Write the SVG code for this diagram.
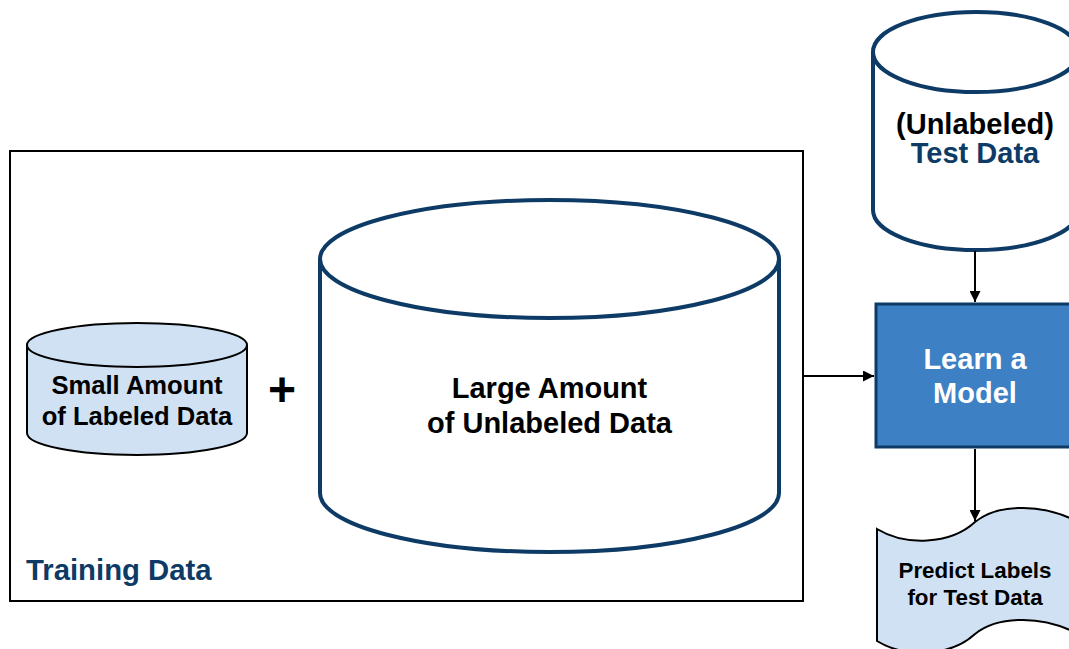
<svg xmlns="http://www.w3.org/2000/svg" width="1069" height="649" viewBox="0 0 1069 649">
<style>
text{font-family:"Liberation Sans",Arial,sans-serif;font-weight:bold;text-anchor:middle}
.navy{fill:#0d3b66}
.blk{fill:#000}
.wht{fill:#fff}
.cylN{fill:#fff;stroke:#0d3b66;stroke-width:4}
.cylL{fill:#cfe1f3;stroke:#000;stroke-width:2}
.conn{stroke:#000;stroke-width:2;fill:none}
</style>
<defs>
<marker id="arr" viewBox="0 0 10 10" refX="10" refY="5" markerWidth="11" markerHeight="11" markerUnits="userSpaceOnUse" orient="auto">
<path d="M0,0 L10,5 L0,10 z" fill="#000"/>
</marker>
</defs>
<rect width="1069" height="649" fill="#fff"/>
<g id="training-data">
<rect x="10" y="151" width="793" height="450" fill="#fff" stroke="#000" stroke-width="2"/>
<text x="26" y="580" class="navy" font-size="29.3" style="text-anchor:start">Training Data</text>
</g>
<g id="small-labeled">
<path class="cylL" d="M27,345 L27,433 A110,22 0 0 0 247,433 L247,345"/>
<ellipse class="cylL" cx="137" cy="345" rx="110" ry="22"/>
<text x="137" y="394" class="blk" font-size="25.6">Small Amount</text>
<text x="137" y="425" class="blk" font-size="25.6">of Labeled Data</text>
</g>
<g id="plus">
<text x="282" y="406" class="blk" font-size="48">+</text>
</g>
<g id="large-unlabeled">
<path class="cylN" d="M320,259 L320,493 A229.5,59 0 0 0 779,493 L779,259"/>
<ellipse class="cylN" cx="549.5" cy="259" rx="229.5" ry="59"/>
<text x="549.5" y="398" class="blk" font-size="29">Large Amount</text>
<text x="549.5" y="433" class="blk" font-size="29">of Unlabeled Data</text>
</g>
<g id="test-data">
<path class="cylN" d="M873,52 L873,210 A103,40 0 0 0 1079,210 L1079,52"/>
<ellipse class="cylN" cx="976" cy="52" rx="103" ry="40"/>
<text x="975" y="134" class="blk" font-size="29">(Unlabeled)</text>
<text x="975" y="163" class="navy" font-size="29">Test Data</text>
</g>
<g id="learn-model">
<rect x="876" y="304" width="200" height="143" fill="#3d80c3" stroke="#0d3b66" stroke-width="3"/>
<text x="975" y="369" class="wht" font-size="29">Learn a</text>
<text x="975" y="403" class="wht" font-size="29">Model</text>
</g>
<g id="predict-labels">
<path d="M877,529 C905,546 950,545 975,522 C1000,502 1045,505 1076,521 L1076,633 C1045,617 1000,614 975,634 C950,657 905,658 877,641 Z" fill="#cfe1f3" stroke="#000" stroke-width="2"/>
<text x="975" y="578" class="blk" font-size="22.4">Predict Labels</text>
<text x="975" y="605" class="blk" font-size="22.4">for Test Data</text>
</g>
<g id="connectors">
<line class="conn" x1="975" y1="251" x2="975" y2="302" marker-end="url(#arr)"/>
<line class="conn" x1="804" y1="376" x2="874" y2="376" marker-end="url(#arr)"/>
<line class="conn" x1="975" y1="449" x2="975" y2="521" marker-end="url(#arr)"/>
</g>
</svg>
